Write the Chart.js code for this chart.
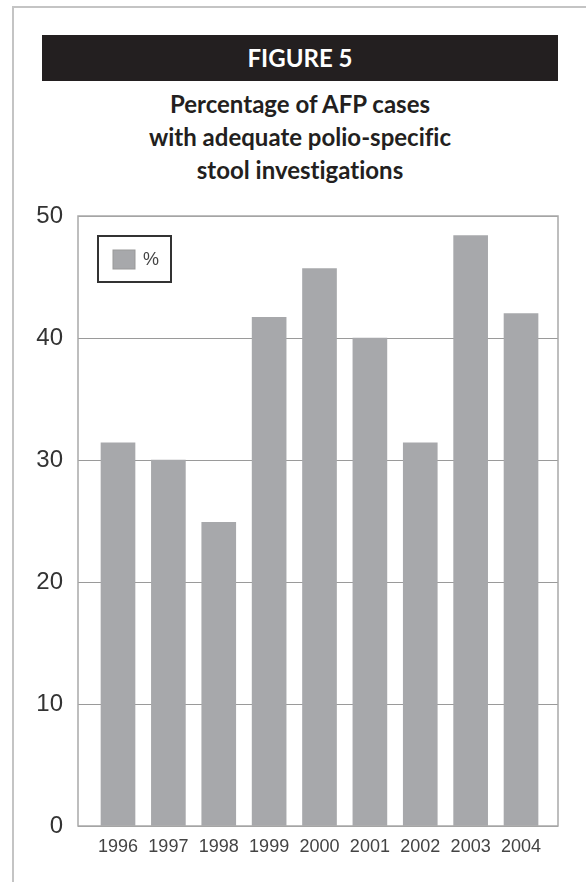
<!DOCTYPE html>
<html>
<head>
<meta charset="utf-8">
<script src="https://cdn.jsdelivr.net/npm/chart.js@4.4.1/dist/chart.umd.min.js"></script>
<style>
  html, body { margin: 0; padding: 0; background: #fff; }
  body { width: 586px; height: 882px; position: relative; overflow: hidden; }
  #frameTop { position: absolute; left: 12px; top: 6px; width: 574px; height: 2px; background: #c4c4c4; }
  #frameLeft { position: absolute; left: 12px; top: 6px; width: 2px; height: 876px; background: #c4c4c4; }
  #figBar {
    position: absolute; left: 42px; top: 35px; width: 516px; height: 46px;
    background: #231f20; color: #fff; text-align: center;
    font: bold 24px Lato, "Noto Sans", sans-serif; line-height: 46px;
  }
  #subtitle {
    position: absolute; left: 42px; top: 87px; width: 516px; text-align: center;
    font: bold 24px Lato, "Noto Sans", sans-serif; line-height: 33px; color: #231f20;
    font-variant-ligatures: none;
  }
  #wrap { position: absolute; left: 0; top: 0; width: 586px; height: 882px; }
</style>
</head>
<body>
<div id="frameTop"></div>
<div id="frameLeft"></div>
<div id="figBar">FIGURE 5</div>
<div id="subtitle">Percentage of AFP cases<br>with adequate polio-specific<br>stool investigations</div>
<div id="wrap"><canvas id="myChart" width="586" height="882"></canvas></div>
<script>
// Data
var years = ['1996', '1997', '1998', '1999', '2000', '2001', '2002', '2003', '2004'];
var percent = [31.4, 30, 24.9, 41.7, 45.7, 40, 31.4, 48.4, 42.0];
var yTicks = [0, 10, 20, 30, 40, 50];
var seriesLabel = '%';

var barColor = '#a7a8ab';

// draws the box round the plot area and the legend inside it
var framePlugin = {
    id: 'frameAndLegend',
    afterDraw: function (chart) {
        var c = chart.ctx;
        var a = chart.chartArea;
        c.save();
        c.strokeStyle = '#a9a9a9';
        c.lineWidth = 1.5;
        c.strokeRect(a.left, a.top, a.right - a.left, a.bottom - a.top);

        // legend box
        var lx = a.left + 20, ly = a.top + 20;
        c.strokeStyle = '#333';
        c.lineWidth = 2;
        c.strokeRect(lx, ly, 73, 46);
        c.fillStyle = chart.data.datasets[0].backgroundColor;
        c.fillRect(lx + 15, ly + 14, 22, 19);
        c.strokeStyle = '#999';
        c.lineWidth = 1;
        c.strokeRect(lx + 15, ly + 14, 22, 19);
        c.fillStyle = '#444';
        c.font = '18px "Liberation Sans", Arial, sans-serif';
        c.textBaseline = 'middle';
        c.fillText(chart.data.datasets[0].label, lx + 45, ly + 24);
        c.restore();
    }
};

var ctx = document.getElementById('myChart').getContext('2d');

var data = {
    datasets: [{
        label: seriesLabel,
        data: percent.map(function (v, i) { return { x: i, y: v }; }),
        backgroundColor: barColor,
        borderWidth: 0,
        barThickness: 34
    }]
};

var myChart = new Chart(ctx, {
    type: 'bar',
    data: data,
    plugins: [framePlugin],
    options: {
        responsive: false,
        animation: false,
        layout: { padding: { top: 216, right: 28, left: 0, bottom: 0 } },
        plugins: { legend: { display: false }, tooltip: { enabled: false } },
        scales: {
            x: {
                type: 'linear',
                offset: false,
                min: -0.794,
                max: 8.734,
                afterFit: function (s) { s.height = 56; },
                afterBuildTicks: function (s) {
                    s.ticks = years.map(function (y, i) { return { value: i }; });
                },
                grid: { display: false, drawTicks: false },
                border: { display: false },
                ticks: {
                    padding: 10,
                    autoSkip: false,
                    maxRotation: 0,
                    color: '#444',
                    font: { family: '"Liberation Sans", Arial, sans-serif', size: 18 },
                    callback: function (v) { return years[Math.round(v)]; }
                }
            },
            y: {
                min: 0,
                max: 50,
                afterFit: function (s) { s.width = 78; },
                afterBuildTicks: function (s) {
                    s.ticks = yTicks.map(function (v) { return { value: v }; });
                },
                grid: { color: '#9a9a9a', lineWidth: 1, drawTicks: false },
                border: { display: false },
                ticks: {
                    padding: 15,
                    color: '#333',
                    font: { family: '"Liberation Sans", Arial, sans-serif', size: 24 }
                }
            }
        }
    }
});
</script>
</body>
</html>
